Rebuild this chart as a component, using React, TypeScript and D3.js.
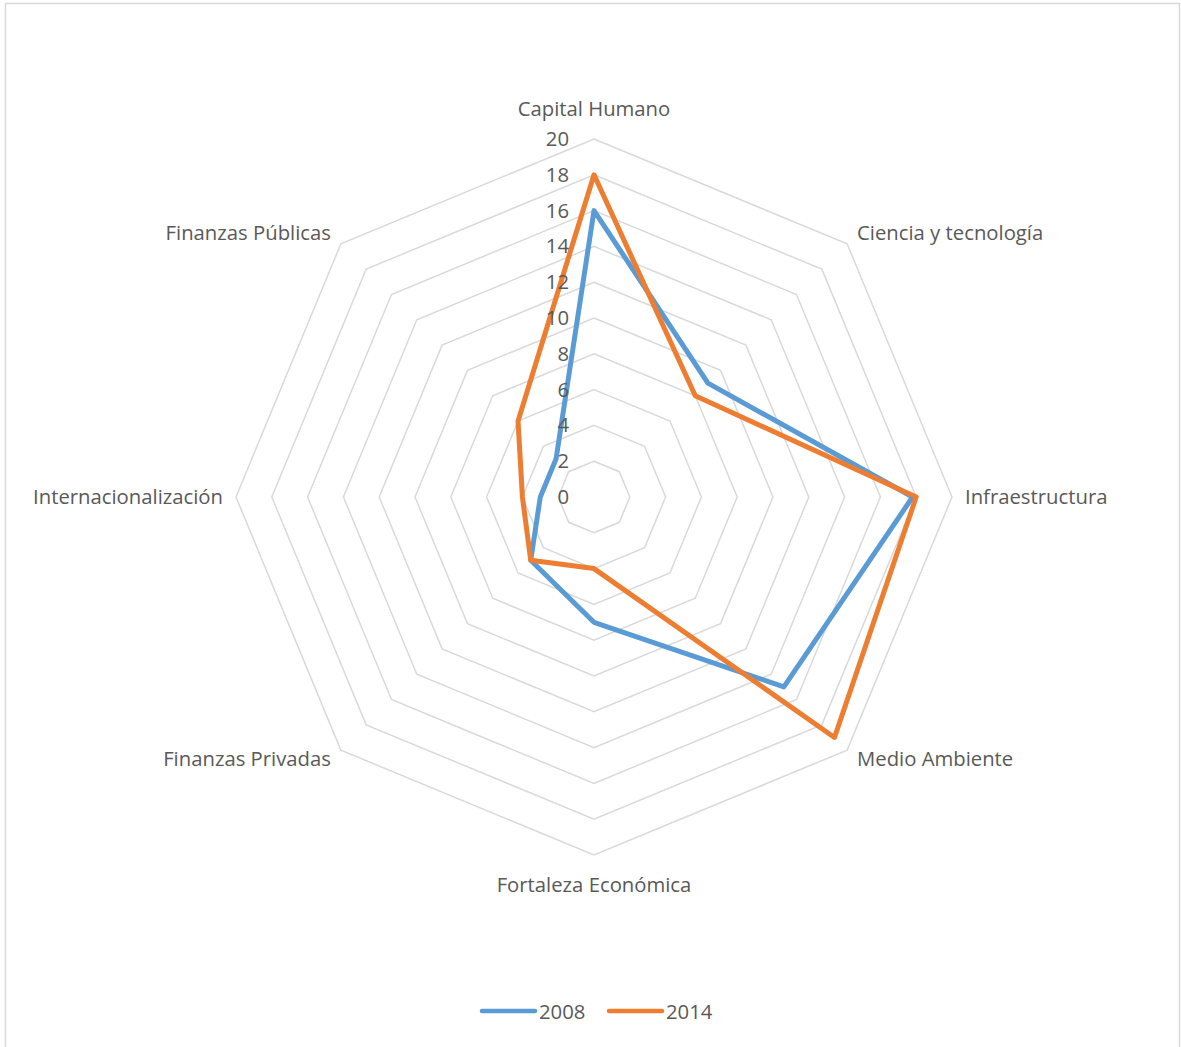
import React from "react";
import * as d3 from "d3";

const categories = [
  "Capital Humano",
  "Ciencia y tecnología",
  "Infraestructura",
  "Medio Ambiente",
  "Fortaleza Económica",
  "Finanzas Privadas",
  "Internacionalización",
  "Finanzas Públicas",
];
const values2008 = [16, 9, 17.8, 15, 7, 5, 3, 3];
const values2014 = [18, 8, 18, 19, 4, 5, 4, 6];
const tickValues = [0, 2, 4, 6, 8, 10, 12, 14, 16, 18, 20];
const seriesNames = ["2008", "2014"];
const seriesColors = ["#5B9BD5", "#ED7D31"];

const W = 1181;
const H = 1047;
const cx = 594;
const cy = 497;
const R = 358;
const FONT = "'Open Sans', 'Liberation Sans', sans-serif";
const FS = 20.3;

export default function App() {
  const r = d3.scaleLinear().domain([0, 20]).range([0, R]);
  const angle = (i: number) => (i * 2 * Math.PI) / categories.length;
  const pt = (i: number, v: number): [number, number] => [
    cx + r(v) * Math.sin(angle(i)),
    cy - r(v) * Math.cos(angle(i)),
  ];
  const line = d3.line<[number, number]>().curve(d3.curveLinearClosed);

  const rings = tickValues.slice(1).map((t) =>
    line(categories.map((_, i) => pt(i, t)))
  );
  const series = [values2008, values2014].map((vals) =>
    line(vals.map((v, i) => pt(i, v)))
  );

  const labelPos = (i: number) => {
    const a = angle(i);
    const s = Math.sin(a);
    const c = Math.cos(a);
    let x: number, y: number, anchor: "start" | "middle" | "end";
    if (Math.abs(s) < 0.01) {
      x = cx;
      y = c > 0 ? cy - R - 31 : cy + R + 29;
      anchor = "middle";
    } else if (Math.abs(c) < 0.01) {
      x = s > 0 ? cx + R + 13 : cx - R - 13;
      y = cy - 1;
      anchor = s > 0 ? "start" : "end";
    } else {
      const rr = R + 14;
      x = cx + rr * s;
      y = cy - rr * c - 2;
      anchor = s > 0 ? "start" : "end";
    }
    return { x, y, anchor };
  };

  return (
    <svg
      width={W}
      height={H}
      style={{ position: "absolute", left: 0, top: 0, background: "#fff" }}
      fontFamily={FONT}
    >
      <rect x={5.5} y={3.5} width={1174} height={1100} fill="#fff" stroke="#d9d9d9" strokeWidth={1.5} />
      <g>
        {rings.map((d, k) => (
          <path key={k} d={d ?? ""} fill="none" stroke="#d9d9d9" strokeWidth={1.5} />
        ))}
      </g>
      <g>
        {series.map((d, k) => (
          <path
            key={k}
            d={d ?? ""}
            fill="none"
            stroke={seriesColors[k]}
            strokeWidth={5}
            strokeLinejoin="round"
          />
        ))}
      </g>
      <g fill="#595959" fontSize={FS}>
        {tickValues.map((t) => (
          <text key={t} x={cx - 25} y={cy - r(t) - 1} textAnchor="end" dominantBaseline="central">
            {t}
          </text>
        ))}
      </g>
      <g fill="#595959" fontSize={FS}>
        {categories.map((c, i) => {
          const p = labelPos(i);
          return (
            <text key={c} x={p.x} y={p.y} textAnchor={p.anchor} dominantBaseline="central">
              {c}
            </text>
          );
        })}
      </g>
      <g fontSize={FS} fill="#595959">
        {seriesNames.map((n, k) => {
          const x0 = 482 + k * 127;
          return (
            <g key={n}>
              <line
                x1={x0}
                x2={x0 + 53}
                y1={1011}
                y2={1011}
                stroke={seriesColors[k]}
                strokeWidth={4.5}
                strokeLinecap="round"
              />
              <text x={x0 + 57} y={1011} dominantBaseline="central">
                {n}
              </text>
            </g>
          );
        })}
      </g>
    </svg>
  );
}
